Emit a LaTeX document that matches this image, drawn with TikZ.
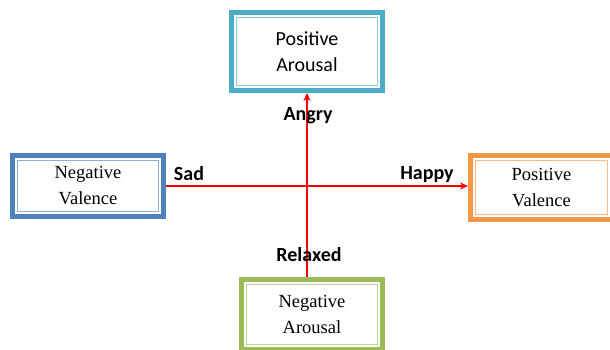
\documentclass[tikz,border=0pt]{standalone}
\usepackage{fontspec}
\setmainfont{Liberation Serif}
\newfontfamily\calfont{Carlito}
\usetikzlibrary{arrows.meta}

\definecolor{paTeal}{HTML}{4BACC6}
\definecolor{nvBlue}{HTML}{4F81BD}
\definecolor{pvOrange}{HTML}{F79646}
\definecolor{naGreen}{HTML}{9BBB59}

\tikzset{
  quad/.style={draw=#1, line width=5pt, align=center, inner sep=0pt},
  axis/.style={draw=red, line width=1.1pt, -{Stealth[length=8pt,width=7pt]}},
  mood/.style={font=\calfont\bfseries\fontsize{20}{22}\selectfont},
}

\begin{document}
\begin{tikzpicture}
      \useasboundingbox (0,0) rectangle (610pt,350pt);
      \clip (0,0) rectangle (610pt,350pt);
      \node[quad=paTeal, minimum width=151pt, minimum height=78pt,
        font=\calfont\fontsize{20}{26}\selectfont]
        (pa) at (307pt,298.5pt) {Positive\\Arousal};
      \node[quad=nvBlue, minimum width=151pt, minimum height=61pt,
        font=\fontsize{18.5}{26}\selectfont]
        (nv) at (88pt,164pt) {Negative\\Valence};
      \node[quad=pvOrange, minimum width=142pt, minimum height=64pt,
        font=\fontsize{18.5}{26}\selectfont]
        (pv) at (541.5pt,162.5pt) {Positive\\Valence};
      \node[quad=naGreen, minimum width=141pt, minimum height=70pt,
        font=\fontsize{18.5}{26}\selectfont]
        (na) at (312pt,35.5pt) {Negative\\Arousal};
      % thin inner frames
      \foreach \n/\c in {pa/paTeal, nv/nvBlue, pv/pvOrange, na/naGreen}
        \draw[\c!65, line width=1.1pt]
          ([shift={(7.5pt,7.5pt)}]\n.south west) rectangle
          ([shift={(-7.5pt,-7.5pt)}]\n.north east);
      % axes
      \begin{scope}
        \draw[axis] (nv.east) -- (nv.east -| pv.west);
        \draw[axis] (na.north -| pa.south) -- (pa.south);
      \end{scope}
      \node[mood] (angry) at (308pt,234pt) {Angry};
      \node[mood] (sad) at (189pt,176pt) {Sad};
      \node[mood] (happy) at (427pt,175pt) {Happy};
      \node[mood] (relaxed) at (309pt,95pt) {Relaxed};
\end{tikzpicture}
\end{document}
